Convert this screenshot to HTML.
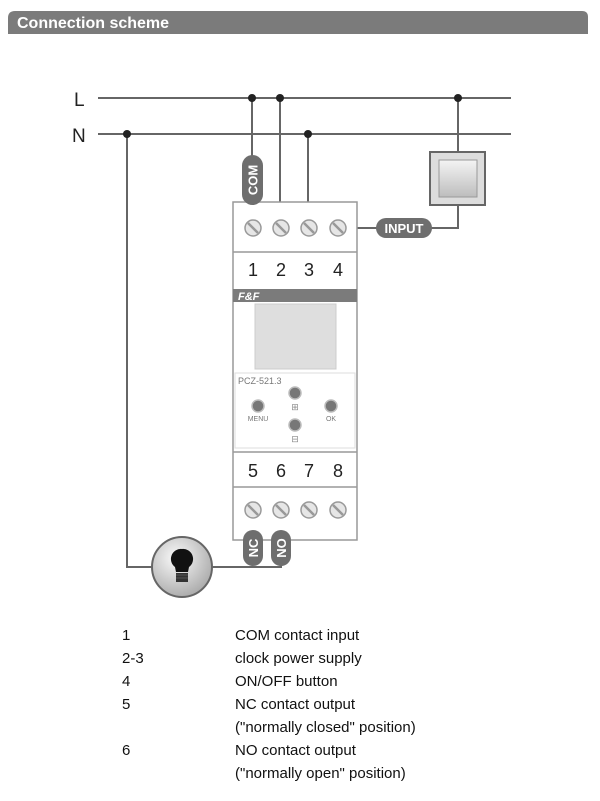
<!DOCTYPE html>
<html><head><meta charset="utf-8"><style>
body{margin:0;background:#fff;width:600px;height:796px;overflow:hidden;font-family:"Liberation Sans",sans-serif}
</style></head><body>
<svg width="600" height="796" viewBox="0 0 600 796" xmlns="http://www.w3.org/2000/svg" font-family="Liberation Sans, sans-serif">
<defs>
<radialGradient id="lg" cx="0.4" cy="0.35" r="0.7"><stop offset="0" stop-color="#fafafa"/><stop offset="1" stop-color="#a8a8a8"/></radialGradient>
<linearGradient id="sw" x1="0" y1="0" x2="0" y2="1"><stop offset="0" stop-color="#f4f4f4"/><stop offset="1" stop-color="#bdbdbd"/></linearGradient>
<g id="scr"><circle r="8" fill="#e6e6e6" stroke="#999" stroke-width="1.5"/><line x1="-5" y1="-5" x2="5" y2="5" stroke="#999" stroke-width="2.5"/></g>
</defs>
<path d="M8 18 Q8 11 15 11 L582 11 Q588 11 588 17 L588 34 L8 34 Z" fill="#7b7b7b"/>
<text x="17" y="28" fill="#fff" font-size="16" font-weight="bold">Connection scheme</text>
<text x="74" y="106" font-size="19" fill="#222">L</text>
<text x="72" y="142" font-size="19" fill="#222">N</text>
<g stroke="#666" stroke-width="2" fill="none">
<line x1="98" y1="98" x2="511" y2="98"/><line x1="98" y1="134" x2="511" y2="134"/>
<line x1="252" y1="98" x2="252" y2="222"/><line x1="280" y1="98" x2="280" y2="222"/><line x1="308" y1="134" x2="308" y2="222"/>
<polyline points="458,98 458,152"/><polyline points="458,205 458,228 430,228"/><line x1="346" y1="228" x2="378" y2="228"/>
<polyline points="127,134 127,567 152,567"/><polyline points="212,567 281,567 281,510"/>
</g>
<g fill="#222"><circle cx="252" cy="98" r="4"/><circle cx="280" cy="98" r="4"/><circle cx="458" cy="98" r="4"/><circle cx="127" cy="134" r="4"/><circle cx="308" cy="134" r="4"/></g>
<rect x="430" y="152" width="55" height="53" fill="#ddd" stroke="#666" stroke-width="2"/>
<rect x="439" y="160" width="38" height="37" fill="url(#sw)" stroke="#999"/>
<rect x="233" y="202" width="124" height="338" fill="#fff" stroke="#999" stroke-width="1.5"/>
<line x1="233" y1="252" x2="357" y2="252" stroke="#999" stroke-width="1.5"/>
<line x1="233" y1="487" x2="357" y2="487" stroke="#999" stroke-width="1.5"/>
<line x1="233" y1="452" x2="357" y2="452" stroke="#999" stroke-width="1.5"/>
<rect x="233" y="289" width="124" height="13" fill="#7b7b7b"/>
<text x="238" y="300" font-size="11" font-weight="bold" font-style="italic" fill="#fff">F&amp;F</text>
<rect x="255" y="304" width="81" height="65" fill="#dedede" stroke="#ccc"/>
<rect x="235" y="373" width="120" height="75" fill="#fff" stroke="#ddd"/>
<text x="238" y="384" font-size="9" fill="#777">PCZ-521.3</text>
<g fill="#777" stroke="#bbb" stroke-width="1.5"><circle cx="258" cy="406" r="6"/><circle cx="331" cy="406" r="6"/><circle cx="295" cy="393" r="6"/><circle cx="295" cy="425" r="6"/></g>
<text x="258" y="421" font-size="7" fill="#777" text-anchor="middle">MENU</text>
<text x="331" y="421" font-size="7" fill="#777" text-anchor="middle">OK</text>
<text x="295" y="410" font-size="9" fill="#888" text-anchor="middle">⊞</text>
<text x="295" y="442" font-size="9" fill="#888" text-anchor="middle">⊟</text>
<g font-size="18" fill="#222" text-anchor="middle">
<text x="253" y="276">1</text><text x="281" y="276">2</text><text x="309" y="276">3</text><text x="338" y="276">4</text>
<text x="253" y="477">5</text><text x="281" y="477">6</text><text x="309" y="477">7</text><text x="338" y="477">8</text>
</g>
<use href="#scr" x="253" y="228"/><use href="#scr" x="281" y="228"/><use href="#scr" x="309" y="228"/><use href="#scr" x="338" y="228"/>
<use href="#scr" x="253" y="510"/><use href="#scr" x="281" y="510"/><use href="#scr" x="309" y="510"/><use href="#scr" x="338" y="510"/>
<rect x="242" y="155" width="21" height="50" rx="10.5" fill="#6e6e6e"/>
<text x="0" y="0" font-size="13" font-weight="bold" fill="#fff" text-anchor="middle" transform="translate(257.5,180) rotate(-90)">COM</text>
<rect x="376" y="218" width="56" height="20" rx="10" fill="#6e6e6e"/>
<text x="404" y="233" font-size="13" font-weight="bold" fill="#fff" text-anchor="middle">INPUT</text>
<rect x="243" y="530" width="20" height="36" rx="10" fill="#6e6e6e"/>
<text font-size="13" font-weight="bold" fill="#fff" text-anchor="middle" transform="translate(258,548) rotate(-90)">NC</text>
<rect x="271" y="530" width="20" height="36" rx="10" fill="#6e6e6e"/>
<text font-size="13" font-weight="bold" fill="#fff" text-anchor="middle" transform="translate(286,548) rotate(-90)">NO</text>
<circle cx="182" cy="567" r="30" fill="url(#lg)" stroke="#666" stroke-width="2"/>
<path d="M182 549 a10 10 0 0 1 7 18 l-1 5 h-12 l-1 -5 a10 10 0 0 1 7 -18z" fill="#111"/>
<rect x="176" y="573" width="12" height="9" fill="#333"/>
<g stroke="#555" stroke-width="1"><line x1="176" y1="575" x2="188" y2="575"/><line x1="176" y1="578" x2="188" y2="578"/></g>
<g font-size="15" fill="#111">
<text x="122" y="640">1</text><text x="235" y="640">COM contact input</text>
<text x="122" y="663">2-3</text><text x="235" y="663">clock power supply</text>
<text x="122" y="686">4</text><text x="235" y="686">ON/OFF button</text>
<text x="122" y="709">5</text><text x="235" y="709">NC contact output</text>
<text x="235" y="732">("normally closed" position)</text>
<text x="122" y="755">6</text><text x="235" y="755">NO  contact output</text>
<text x="235" y="778">("normally open" position)</text>
</g>
</svg>
</body></html>
